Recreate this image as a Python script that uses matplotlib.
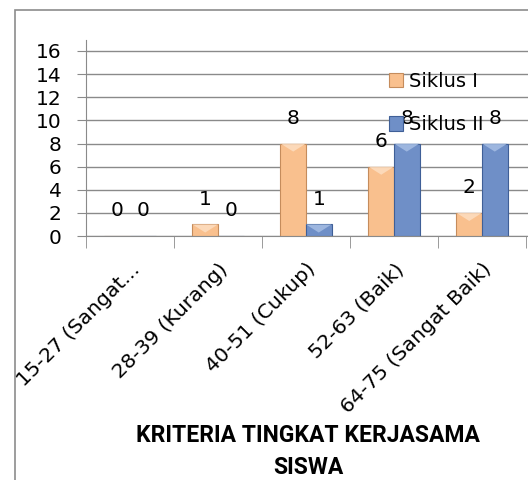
import numpy as np
import matplotlib
matplotlib.use("Agg")
import matplotlib.pyplot as plt
from matplotlib.patches import Rectangle, Polygon

categories = ["15-27 (Sangat...", "28-39 (Kurang)", "40-51 (Cukup)",
              "52-63 (Baik)", "64-75 (Sangat Baik)"]
siklus1 = [0, 1, 8, 6, 2]
siklus2 = [0, 0, 1, 8, 8]
series_names = ["Siklus I", "Siklus II"]

plt.rcParams['font.family'] = ['DejaVu Sans']

W, H = 528, 480
fig = plt.figure(figsize=(W / 100, H / 100), dpi=100)
fig.patch.set_facecolor('white')

# outer chart frame (cut off at right/bottom like the reference)
fig.patches.append(Rectangle((15 / W, -0.2), 1.2, 1 - 10 / H + 0.2,
                             transform=fig.transFigure, fill=False,
                             edgecolor='#8c8c8c', linewidth=1.2))

ax = fig.add_axes([86 / W, 1 - 236 / H, 1 - 86 / W, 196 / H])
ax.set_xlim(-0.5, -0.5 + 442 / 88)
ax.set_ylim(0, 16 * 196 / 185)

grid_c = '#8a8a8a'
ax.set_yticks(np.arange(0, 17, 2))
ax.yaxis.grid(True, color=grid_c, linewidth=1.0)
ax.set_axisbelow(True)
for s in ['top', 'right']:
    ax.spines[s].set_visible(False)
ax.spines['left'].set_color(grid_c)
ax.spines['bottom'].set_color(grid_c)
ax.tick_params(axis='y', length=6.5, color=grid_c, pad=11, labelsize=14.5)

x = np.arange(len(categories))
ax.set_xticks(x)
ax.set_xticklabels(categories, rotation=45, ha='right', rotation_mode='anchor',
                   fontsize=14.7)
ax.tick_params(axis='x', which='major', length=0, pad=17)
ax.set_xticks(np.arange(-0.5, len(categories), 1), minor=True)
ax.tick_params(axis='x', which='minor', length=8.6, color=grid_c)

bw = 0.29
styles = [('#f9c08e', '#c58c5c', '#fde0c4'), ('#6f8fc7', '#3f5f97', '#a9c1e6')]
for vals, off, (fc, ec, lc), name in zip([siklus1, siklus2], [-bw / 2, bw / 2],
                                         styles, series_names):
    bars = ax.bar(x + off, vals, bw, color=fc, edgecolor=ec, linewidth=0.8,
                  label=name)
    for b, v in zip(bars, vals):
        if v > 0:
            bx, bwid, top = b.get_x(), b.get_width(), b.get_height()
            bev = min(0.7, top)
            ax.add_patch(Polygon([[bx, top], [bx + bwid, top],
                                  [bx + bwid / 2, top - bev]],
                                 closed=True, facecolor=lc, edgecolor='none',
                                 alpha=0.8))
        ax.annotate(str(v), (b.get_x() + b.get_width() / 2, v),
                    xytext=(0, 18), textcoords='offset points',
                    ha='center', va='center', fontsize=14.5)

leg = ax.legend(loc='upper left', bbox_to_anchor=(389 / W, 1 - 72 / H),
                bbox_transform=fig.transFigure, frameon=False, fontsize=14,
                handlelength=0.7, handleheight=0.75, handletextpad=0.35,
                labelspacing=1.25, borderpad=0, borderaxespad=0)

fig.text(308 / W, 1 - 452 / H, "KRITERIA TINGKAT KERJASAMA\nSISWA",
         ha='center', va='center', fontsize=16.5, fontweight='bold',
         family=['Roboto', 'DejaVu Sans'], linespacing=1.5)

fig.savefig("out.png", dpi=100)
